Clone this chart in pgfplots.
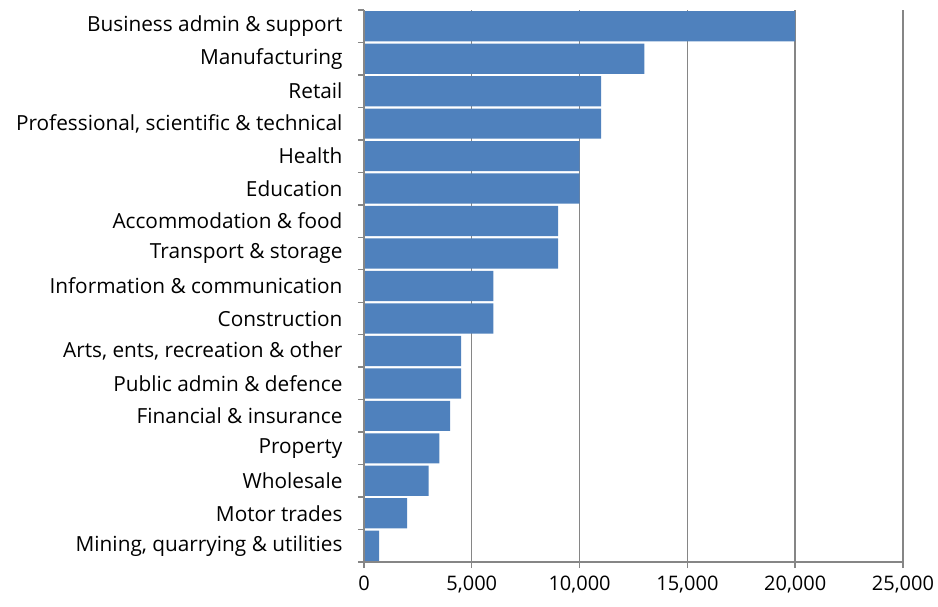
\documentclass[border=0pt]{standalone}
\usepackage{pgfplots}
\pgfplotsset{compat=1.18}
\usepackage{fontspec}
\setmainfont{Open Sans}
\definecolor{barblue}{RGB}{79,129,189}
\definecolor{gridgray}{RGB}{134,134,134}
\begin{document}
\begin{tikzpicture}[x=1pt,y=1pt]
\path[use as bounding box] (-364,-44) rectangle (574,562);
\begin{axis}[
  at={(0,0)}, anchor=south west,
  scale only axis, width=539pt, height=552pt,
  xmin=0, xmax=25000, ymin=-0.5, ymax=16.5,
  scaled x ticks=false,
  xbar, bar width=0.93, bar shift=0pt,
  axis x line*=bottom, axis y line*=left,
  axis line style={gridgray, line width=1.4pt},
  xtick={0,5000,10000,15000,20000,25000},
  xticklabels={0,{5,000},{10,000},{15,000},{20,000},{25,000}},
  xmajorgrids, major grid style={gridgray, line width=1.4pt},
  tick style={gridgray, line width=1.4pt},
  tick align=outside, major tick length=6pt,
  ytick={-0.5,0.5,...,16.5},
  y tick label as interval,
  yticklabels={{Mining, quarrying \& utilities},{Motor trades},{Wholesale},{Property},{Financial \& insurance},{Public admin \& defence},{Arts, ents, recreation \& other},{Construction},{Information \& communication},{Transport \& storage},{Accommodation \& food},{Education},{Health},{Professional, scientific \& technical},{Retail},{Manufacturing},{Business admin \& support}},
  yticklabel style={font=\fontsize{20.8}{23}\selectfont, text=black, xshift=-12pt},
  xticklabel style={font=\fontsize{20}{22}\selectfont, text=black, yshift=-4pt},
  clip=false,
]
\addplot[fill=barblue, draw=none] coordinates {
(700,0) (2000,1) (3000,2) (3500,3) (4000,4) (4500,5) (4500,6) (6000,7) (6000,8) (9000,9) (9000,10) (10000,11) (10000,12) (11000,13) (11000,14) (13000,15) (20000,16)
};
\draw[gridgray, line width=1.4pt] (axis cs:0,-0.5) -- (axis cs:0,16.5);
\end{axis}
\end{tikzpicture}
\end{document}
